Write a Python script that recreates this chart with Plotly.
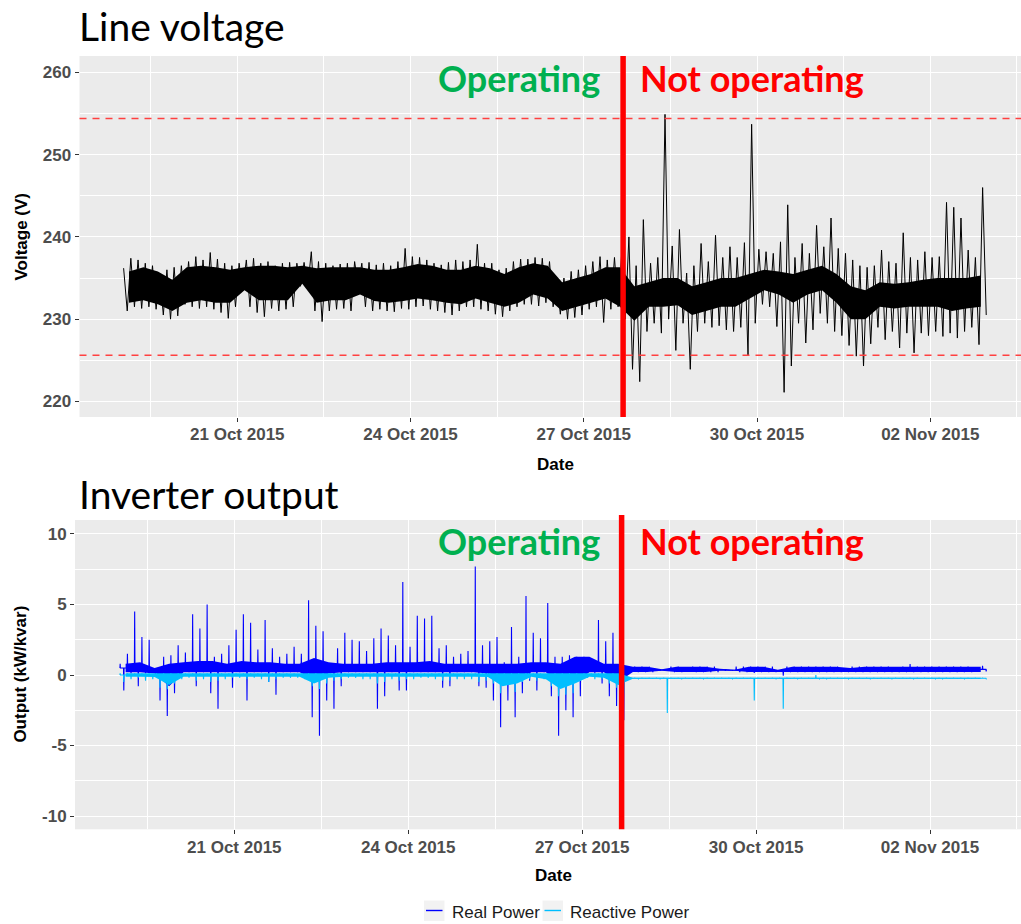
import pandas as pd
import plotly.graph_objects as go

# ---------------- data ----------------
START = "2015-10-19 00:00"          # first sample
N_BINS_3H = 120                      # 15 days of 3-hour bins
N_BINS_6H = 60                       # 15 days of 6-hour bins
STOP_TIME = "2015-10-27 16:20"       # inverter stops operating
V_LIMITS = [225.6, 254.4]            # +/- 6 % voltage limits

# Line voltage: max / min in each 3-hour bin (V)
V_HI = [
    236.2, 237.4, 237.2, 236.8, 236.5, 235.5, 236.0, 236.3,  # 19 Oct
    236.5, 237.0, 237.6, 237.2, 238.1, 237.3, 236.8, 236.5,  # 20 Oct
    236.8, 237.2, 237.4, 236.8, 237.0, 236.5, 236.8, 236.9,  # 21 Oct
    236.8, 236.9, 238.2, 237.0, 236.8, 236.5, 236.7, 236.8,  # 22 Oct
    237.0, 236.8, 236.9, 236.6, 236.8, 236.5, 237.0, 238.6,  # 23 Oct
    237.6, 237.5, 237.2, 236.8, 236.6, 236.9, 237.2, 237.0,  # 24 Oct
    237.2, 239.1, 236.8, 236.8, 236.0, 236.2, 237.0, 237.3,  # 25 Oct
    237.3, 237.5, 237.4, 237.0, 234.8, 235.0, 235.8, 236.0,  # 26 Oct
    236.5, 237.0, 237.6, 237.2, 237.5, 238.0, 240.0, 236.5,  # 27 Oct
    242.1, 236.8, 237.5, 254.9, 238.9, 240.9, 235.6, 236.5,  # 28 Oct
    239.2, 237.0, 240.2, 237.5, 238.8, 237.5, 239.3, 253.7,  # 29 Oct
    238.5, 238.2, 238.0, 239.4, 243.9, 237.5, 239.2, 238.0,  # 30 Oct
    241.4, 238.8, 242.3, 238.6, 238.0, 237.2, 236.5, 236.3,  # 31 Oct
    236.5, 238.4, 237.0, 236.8, 240.5, 237.5, 237.2, 238.2,  # 01 Nov
    237.5, 237.6, 244.2, 243.6, 242.3, 238.4, 237.5, 246.0,  # 02 Nov
]
V_LO = [
    231.0, 231.5, 231.3, 231.5, 231.2, 230.5, 230.0, 230.4,
    231.8, 231.5, 231.3, 231.5, 231.2, 230.8, 230.1, 231.5,
    233.5, 231.5, 230.8, 230.3, 231.3, 231.0, 231.2, 231.5,
    234.0, 233.8, 231.0, 229.7, 231.0, 231.2, 231.3, 231.0,
    234.0, 231.5, 231.0, 231.2, 231.0, 230.9, 231.3, 231.2,
    231.5, 231.6, 231.2, 231.0, 230.8, 230.5, 231.0, 231.5,
    231.5, 231.2, 231.0, 230.6, 230.3, 231.0, 231.5, 231.8,
    231.8, 231.6, 232.0, 231.5, 230.6, 230.0, 230.2, 230.5,
    231.2, 231.5, 229.6, 231.2, 231.5, 230.0, 223.9, 222.4,
    228.5, 229.5, 228.3, 230.0, 226.2, 229.5, 223.9, 228.5,
    229.5, 229.0, 229.2, 228.7, 228.5, 229.0, 225.6, 229.5,
    231.8, 231.5, 229.1, 221.1, 224.3, 229.5, 227.1, 228.7,
    230.7, 229.5, 228.5, 228.0, 226.8, 225.5, 224.3, 227.0,
    229.0, 227.5, 228.5, 226.5, 228.3, 225.9, 228.3, 228.0,
    228.5, 227.9, 228.3, 227.7, 228.5, 229.0, 226.9, 230.5,
]
# Dense core of the voltage trace per 6-hour bin (V)
V_CORE_HI = [
    235.8, 236.3, 235.8, 234.8,  236.3, 236.5, 236.3, 236.0,
    236.3, 236.5, 236.5, 236.3,  236.5, 236.2, 236.3, 236.3,
    236.3, 236.0, 236.0, 236.3,  236.7, 236.5, 236.0, 236.0,
    236.5, 236.2, 235.5, 236.3,  236.8, 236.5, 234.5, 235.0,
    235.5, 236.3, 236.3, 234.0,  234.5, 235.0, 235.0, 234.0,
    234.5, 235.0, 235.0, 235.5,  236.0, 235.8, 235.5, 236.0,
    236.5, 235.5, 234.0, 233.5,  234.5, 234.3, 234.5, 234.8,
    235.0, 235.0, 235.0, 235.3,
]
V_CORE_LO = [
    232.0, 232.3, 231.8, 231.0,  232.0, 232.3, 232.0, 232.0,
    233.5, 232.3, 232.3, 232.3,  234.3, 232.0, 232.3, 232.3,
    233.0, 232.2, 232.0, 232.2,  232.5, 232.3, 232.0, 231.8,
    232.5, 232.0, 231.5, 232.0,  233.0, 232.5, 231.0, 231.5,
    232.0, 232.5, 231.5, 229.8,  231.5, 231.5, 231.7, 230.5,
    231.0, 231.5, 231.5, 232.5,  233.5, 233.0, 232.0, 233.0,
    233.5, 232.0, 230.0, 230.0,  231.5, 231.3, 231.5, 231.5,
    231.5, 231.0, 231.3, 231.5,
]

# Real power: max / min per 3-hour bin (kW)
P_HI = [
    0.8, 1.5, 4.5, 2.7, 2.5, 0.3, 1.3, 1.4,
    2.1, 1.6, 4.3, 3.3, 5.0, 1.3, 1.5, 2.1,
    3.2, 4.3, 3.7, 1.8, 3.9, 1.9, 1.3, 1.5,
    2.0, 1.5, 5.3, 3.5, 3.1, 0.8, 1.9, 3.0,
    2.5, 2.4, 1.7, 2.6, 3.3, 2.8, 2.1, 6.6,
    2.0, 4.2, 4.0, 4.2, 1.9, 2.1, 1.3, 1.5,
    1.7, 7.7, 2.1, 2.4, 2.7, 0.9, 3.4, 1.3,
    5.6, 3.0, 2.6, 5.1, 1.3, 1.3, 1.4, 1.3,
    1.3, 1.2, 3.9, 2.4, 3.0, 2.5, 0.6, 0.6,
    0.6, 0.6, 0.4, 0.4, 0.6, 0.6, 0.4, 0.6,
    0.6, 0.6, 0.6, 0.38, 0.38, 0.6, 0.6, 0.6,
    0.6, 0.6, 0.6, 0.3, 0.6, 0.6, 0.6, 0.6,
    0.6, 0.6, 0.6, 0.6, 0.45, 0.6, 0.6, 0.6,
    0.6, 0.6, 0.6, 0.45, 0.6, 0.78, 0.6, 0.6,
    0.6, 0.6, 0.6, 0.6, 0.6, 0.6, 0.45, 0.65,
]
P_LO = [
    -1.1, 0.1, -0.8, 0.1, 0.2, -1.8, -2.9, -1.3,
    0.2, 0.2, -0.8, 0.2, -1.3, -2.4, 0.2, -0.9,
    0.2, -1.8, 0.2, 0.2, -0.5, -1.4, 0.2, 0.2,
    0.2, 0.2, -3.0, -4.3, -1.8, -2.4, -0.8, 0.2,
    0.2, 0.2, 0.2, -2.4, -1.5, 0.2, -1.1, -1.1,
    0.2, 0.2, 0.2, 0.2, -0.9, -0.8, 0.2, 0.2,
    0.2, -0.8, -0.9, -1.8, -3.7, -1.8, -3.0, -1.3,
    -0.4, -1.1, 0.2, -1.5, -4.3, -2.5, -3.0, -1.5,
    0.2, 0.1, -0.6, -1.5, -2.2, -3.2, 0.2, 0.2,
    0.2, 0.2, 0.3, 0.3, 0.2, 0.2, 0.3, 0.2,
    0.2, 0.2, 0.2, 0.3, 0.3, 0.2, 0.2, 0.15,
    0.2, 0.2, 0.2, -0.05, 0.2, 0.2, 0.2, 0.2,
    0.2, 0.2, 0.2, 0.2, 0.2, 0.2, 0.2, 0.2,
    0.2, 0.2, 0.2, 0.2, 0.2, 0.2, 0.2, 0.2,
    0.2, 0.2, 0.2, 0.2, 0.2, 0.2, 0.25, 0.25,
]
P_CORE_HI = [
    0.8, 0.9, 0.5, 0.8,  0.9, 1.0, 1.0, 0.8,  1.0, 0.9, 0.9, 0.8,
    0.8, 1.2, 0.9, 0.8,  0.8, 0.8, 0.9, 0.9,  0.9, 1.0, 0.8, 0.8,
    0.8, 0.8, 0.8, 0.8,  0.9, 0.9, 0.8, 1.3,  1.3, 0.8, 0.8, 0.58,
    0.58, 0.4, 0.58, 0.58,  0.58, 0.45, 0.38, 0.58,  0.58, 0.38, 0.58, 0.58,
    0.58, 0.58, 0.5, 0.58,  0.58, 0.58, 0.6, 0.58,  0.58, 0.58, 0.58, 0.58,
]
P_CORE_LO = [
    0.2, 0.2, 0.1, -0.8,  0.2, 0.2, 0.2, 0.2,  0.2, 0.2, 0.2, 0.2,
    0.2, -0.3, 0.1, 0.2,  0.2, 0.2, 0.2, 0.2,  0.2, 0.2, 0.2, 0.2,
    0.2, 0.1, -0.5, -0.3,  0.2, 0.2, -0.8, -0.5,  0.2, 0.2, -0.5, 0.22,
    0.22, 0.3, 0.22, 0.22,  0.22, 0.3, 0.3, 0.22,  0.22, 0.2, 0.22, 0.22,
    0.22, 0.22, 0.22, 0.22,  0.22, 0.22, 0.22, 0.22,  0.22, 0.22, 0.22, 0.22,
]

# Reactive power: max / min per 3-hour bin (kvar)
Q_HI = [0.12] * 70 + [-0.2] * 26 + [0.0] + [-0.2] * 23
Q_LO = [
    -0.5, -0.3, -0.2, -0.4, -0.3, -0.9, -1.0, -0.6,
    -0.3, -0.2, -0.4, -0.3, -0.5, -0.4, -0.3, -0.2,
    -0.2, -0.3, -0.2, -0.3, -0.5, -0.3, -0.2, -0.2,
    -0.2, -0.3, -0.8, -1.0, -0.6, -0.4, -0.3, -0.2,
    -0.2, -0.3, -0.3, -0.6, -0.5, -0.3, -0.4, -0.3,
    -0.3, -0.2, -0.2, -0.3, -0.4, -0.4, -0.3, -0.3,
    -0.3, -0.5, -0.4, -0.6, -1.3, -0.6, -1.2, -0.5,
    -0.3, -0.4, -0.3, -0.8, -1.5, -1.4, -1.3, -0.4,
    -0.2, -0.3, -0.3, -0.6, -0.9, -1.3, -0.27, -0.27,
    -0.27, -0.27, -0.27, -2.7, -0.27, -0.27, -0.27, -0.27,
    -0.27, -0.27, -0.27, -0.27, -0.27, -0.27, -0.27, -1.8,
    -0.27, -0.27, -0.27, -2.4, -0.27, -0.27, -0.27, -0.27,
    -0.27, -0.27, -0.27, -0.27, -0.27, -0.27, -0.27, -0.27,
    -0.27, -0.27, -0.27, -0.27, -0.27, -0.27, -0.27, -0.27,
    -0.27, -0.27, -0.27, -0.27, -0.27, -0.27, -0.27, -0.27,
]
Q_CORE_HI = [0.12] * 35 + [-0.2] * 25
Q_CORE_LO = [
    -0.12, -0.12, -0.15, -0.7,  -0.12, -0.12, -0.15, -0.12,  -0.12, -0.12, -0.15, -0.12,
    -0.12, -0.6, -0.2, -0.12,  -0.12, -0.15, -0.15, -0.15,  -0.12, -0.12, -0.15, -0.12,
    -0.12, -0.15, -0.8, -0.6,  -0.12, -0.3, -1.0, -0.6,  -0.12, -0.2, -0.7, -0.27,
    -0.27, -0.27, -0.27, -0.27,  -0.27, -0.27, -0.27, -0.27,  -0.27, -0.27, -0.27, -0.27,
    -0.27, -0.27, -0.27, -0.27,  -0.27, -0.27, -0.27, -0.27,  -0.27, -0.27, -0.27, -0.27,
]

Y1_TICKS = [220, 230, 240, 250, 260]
Y2_TICKVALS = [-10, -5, 0, 5, 10]
Y2_TICKTEXT = ["-10", "-5", "0", "5", "10"]
SERIES = ["Real Power", "Reactive Power"]

# ---------------- geometry / style ----------------
W, H = 1021, 924
def PX(x): return x / W
def PY(y): return 1 - y / H

BLACK = "#000000"
BLUE = "#0000FF"
CYAN = "#00BFFF"
GREEN = "#00B050"
RED = "#FF0000"
PANEL = "#EBEBEB"
DAY_MS = 86400000
MIN = pd.Timedelta(minutes=1)

bins3 = pd.date_range(START, periods=N_BINS_3H, freq="3h")
bins6 = pd.date_range(START, periods=N_BINS_6H, freq="6h") + pd.Timedelta(hours=3)


def zigzag(hi, lo):
    """Noisy trace: alternate between each 3-hour bin's max and min."""
    xs, ys = [], []
    for t, h, l in zip(bins3, hi, lo):
        xs += [t + 45 * MIN, t + 135 * MIN]
        ys += [h, l]
    return xs, ys


def needles(hi, lo, core_hi, core_lo):
    """Each 3-hour bin: one needle up to its max and one down to its min,
    both rising out of the dense core of that period."""
    xs, ys = [], []
    for i, (t, h, l) in enumerate(zip(bins3, hi, lo)):
        mid = (core_hi[i // 2] + core_lo[i // 2]) / 2
        xs += [t + 38 * MIN, t + 45 * MIN, t + 52 * MIN,
               t + 128 * MIN, t + 135 * MIN, t + 142 * MIN]
        ys += [mid, h, mid, mid, l, mid]
    return xs, ys


def band(hi, lo):
    xs = list(bins6) + list(bins6[::-1])
    ys = list(hi) + list(lo)[::-1]
    return xs, ys


fig = go.Figure()

# --- voltage panel ---
bx, by = band(V_CORE_HI, V_CORE_LO)
fig.add_trace(go.Scatter(x=bx, y=by, mode="lines", fill="toself", fillcolor=BLACK,
                         line=dict(width=0), hoverinfo="skip", showlegend=False,
                         xaxis="x", yaxis="y"))
zx, zy = zigzag(V_HI, V_LO)
fig.add_trace(go.Scatter(x=zx, y=zy, mode="lines", name="Voltage",
                         line=dict(color=BLACK, width=1), showlegend=False,
                         xaxis="x", yaxis="y"))

# --- inverter output panel ---
bx, by = band(P_CORE_HI, P_CORE_LO)
fig.add_trace(go.Scatter(x=bx, y=by, mode="lines", fill="toself", fillcolor=BLUE,
                         line=dict(width=0), hoverinfo="skip", showlegend=False,
                         xaxis="x2", yaxis="y2"))
zx, zy = needles(P_HI, P_LO, P_CORE_HI, P_CORE_LO)
fig.add_trace(go.Scatter(x=zx, y=zy, mode="lines", name=SERIES[0],
                         line=dict(color=BLUE, width=1.1), showlegend=False,
                         xaxis="x2", yaxis="y2"))
bx, by = band(Q_CORE_HI, Q_CORE_LO)
fig.add_trace(go.Scatter(x=bx, y=by, mode="lines", fill="toself", fillcolor=CYAN,
                         line=dict(width=0), hoverinfo="skip", showlegend=False,
                         xaxis="x2", yaxis="y2"))
zx, zy = needles(Q_HI, Q_LO, Q_CORE_HI, Q_CORE_LO)
fig.add_trace(go.Scatter(x=zx, y=zy, mode="lines", name=SERIES[1],
                         line=dict(color=CYAN, width=1.1), showlegend=False,
                         xaxis="x2", yaxis="y2"))

TICK_FONT = dict(family="Liberation Sans, Arial, sans-serif", size=17,
                 color="#4D4D4D", weight="bold")
AXIS_TITLE_FONT = dict(family="Liberation Sans, Arial, sans-serif", size=17,
                       color="#000000", weight="bold")

common_x = dict(type="date", tickformat="%d %b %Y", dtick=3 * DAY_MS, tick0="2015-10-21",
                ticks="outside", ticklen=4, tickwidth=1, tickcolor="#333333",
                showgrid=True, gridcolor="white", gridwidth=1.2, zeroline=False,
                showline=False, tickfont=TICK_FONT, ticklabelstandoff=-2,
                minor=dict(dtick=1.5 * DAY_MS, tick0="2015-10-19 12:00", showgrid=True,
                           gridcolor="white", gridwidth=0.6, ticks=""))

common_y = dict(ticks="outside", ticklen=4, tickwidth=1, tickcolor="#333333",
                showgrid=True, gridcolor="white", gridwidth=1.2, zeroline=False,
                tickfont=TICK_FONT, ticklabelstandoff=0, tickmode="array")

fig.update_layout(
    width=W, height=H,
    margin=dict(l=0, r=0, t=0, b=0),
    paper_bgcolor="white", plot_bgcolor=PANEL,
    showlegend=False,
    xaxis=dict(common_x, domain=[PX(79.5), 1.0], anchor="y",
               range=["2015-10-18 06:25", "2015-11-03 13:42"]),
    yaxis=dict(common_y, domain=[PY(417), PY(56)], range=[218.1, 262.0], anchor="x",
               tickvals=Y1_TICKS,
               minor=dict(tickmode="array", tickvals=[225, 235, 245, 255], showgrid=True,
                          gridcolor="white", gridwidth=0.6, ticks="")),
    xaxis2=dict(common_x, domain=[PX(75), 1.0], anchor="y2",
                range=["2015-10-18 06:03", "2015-11-03 13:40"]),
    yaxis2=dict(common_y, domain=[PY(829.3), PY(520)], range=[-10.94, 10.99], anchor="x2",
                tickvals=Y2_TICKVALS, ticktext=Y2_TICKTEXT,
                minor=dict(tickmode="array", tickvals=[-7.5, -2.5, 2.5, 7.5], showgrid=True,
                           gridcolor="white", gridwidth=0.6, ticks="")),
)

shapes = []
for v in V_LIMITS:
    shapes.append(dict(type="line", xref="x domain", yref="y", x0=0, x1=1, y0=v, y1=v,
                       line=dict(color="#FF4040", width=1.5, dash="7px,6px"), layer="above"))
shapes.append(dict(type="line", xref="x", yref="y domain", x0=STOP_TIME, x1=STOP_TIME,
                   y0=0, y1=1, line=dict(color=RED, width=5.5), layer="above"))
shapes.append(dict(type="line", xref="x2", yref="y2 domain", x0=STOP_TIME, x1=STOP_TIME,
                   y0=0, y1=1.016, line=dict(color=RED, width=5.5), layer="above"))
# manual legend keys
LEG_Y = 910.5
for (kx, col) in [(424, BLUE), (542.5, CYAN)]:
    shapes.append(dict(type="rect", xref="paper", yref="paper",
                       x0=PX(kx), x1=PX(kx + 20.5), y0=PY(LEG_Y + 10.5), y1=PY(LEG_Y - 10),
                       fillcolor="#F2F2F2", line=dict(width=0), layer="above"))
    shapes.append(dict(type="line", xref="paper", yref="paper",
                       x0=PX(kx + 2), x1=PX(kx + 18.5), y0=PY(LEG_Y), y1=PY(LEG_Y),
                       line=dict(color=col, width=1.4), layer="above"))
fig.update_layout(shapes=shapes)

TITLE_FONT = dict(family="Lato, Open Sans, sans-serif", size=39, color="#000000")
OP_FONT = dict(family="Lato", size=36, weight="bold")
ann = [
    dict(text="Line voltage", x=PX(77), y=PY(25.5), xanchor="left", yanchor="middle",
         font=TITLE_FONT),
    dict(text="Inverter output", x=PX(77), y=PY(493.5), xanchor="left", yanchor="middle",
         font=TITLE_FONT),
    dict(text="Operating", x=PX(602), y=PY(78), xanchor="right", yanchor="middle",
         font=dict(OP_FONT, color=GREEN)),
    dict(text="Not operating", x=PX(638), y=PY(78), xanchor="left", yanchor="middle",
         font=dict(OP_FONT, color=RED)),
    dict(text="Operating", x=PX(602), y=PY(541), xanchor="right", yanchor="middle",
         font=dict(OP_FONT, color=GREEN)),
    dict(text="Not operating", x=PX(638), y=PY(541), xanchor="left", yanchor="middle",
         font=dict(OP_FONT, color=RED)),
    dict(text="Voltage (V)", x=PX(21), y=PY(236.5), textangle=-90, xanchor="center",
         yanchor="middle", font=AXIS_TITLE_FONT),
    dict(text="Output (kW/kvar)", x=PX(21), y=PY(674.6), textangle=-90, xanchor="center",
         yanchor="middle", font=AXIS_TITLE_FONT),
    dict(text="Date", x=PX(555), y=PY(464), xanchor="center", yanchor="middle",
         font=AXIS_TITLE_FONT),
    dict(text="Date", x=PX(553), y=PY(875), xanchor="center", yanchor="middle",
         font=AXIS_TITLE_FONT),
    dict(text=SERIES[0], x=PX(449.5), y=PY(LEG_Y + 1.5), xanchor="left", yanchor="middle",
         font=dict(family="Liberation Sans, Arial, sans-serif", size=17, color="#1A1A1A")),
    dict(text=SERIES[1], x=PX(567.5), y=PY(LEG_Y + 1.5), xanchor="left", yanchor="middle",
         font=dict(family="Liberation Sans, Arial, sans-serif", size=17, color="#1A1A1A")),
]
for a in ann:
    a.update(xref="paper", yref="paper", showarrow=False)
fig.update_layout(annotations=ann)

fig.write_html("out.html", config={"displayModeBar": False})
